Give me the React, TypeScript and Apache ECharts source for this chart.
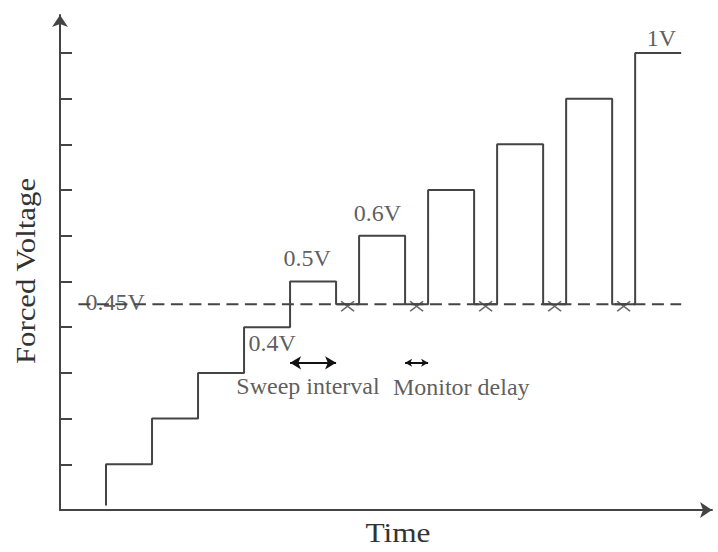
import React, { useEffect, useRef } from "react";
import * as echarts from "echarts";

// Stair-step forced voltage waveform (time units, volts)
const stairTime = [1, 1, 2, 2, 3, 3, 4, 4, 5, 5, 6, 6, 6.5, 6.5, 7.5, 7.5, 8, 8, 9, 9, 9.5, 9.5, 10.5, 10.5, 11, 11, 12, 12, 12.5, 12.5, 13.5];
const stairVolt = [0.01, 0.1, 0.1, 0.2, 0.2, 0.3, 0.3, 0.4, 0.4, 0.5, 0.5, 0.45, 0.45, 0.6, 0.6, 0.45, 0.45, 0.7, 0.7, 0.45, 0.45, 0.8, 0.8, 0.45, 0.45, 0.9, 0.9, 0.45, 0.45, 1.0, 1.0];

// Threshold (dashed) line
const thresholdVolt = 0.45;
const thresholdSpan = [0.4, 13.5];

// Monitor points (crosses)
const monitorTime = [6.25, 7.75, 9.25, 10.75, 12.25];

// Y tick values
const yTicks = [0.1, 0.2, 0.3, 0.4, 0.5, 0.6, 0.7, 0.8, 0.9, 1.0];

// Interval arrows: [startTime, endTime, volt]
const sweepArrow = [5, 6, 0.322];
const monitorArrow = [7.5, 8, 0.322];

// Annotation labels: [time, volt, text]
const annotations: [number, number, string][] = [
  [13.07, 1.033, "1V"],
  [6.9, 0.65, "0.6V"],
  [5.37, 0.551, "0.5V"],
  [4.61, 0.365, "0.4V"],
  [1.2, 0.455, "0.45V"],
  [5.39, 0.271, "Sweep interval"],
  [8.72, 0.269, "Monitor delay"],
];

const FONT = "'Liberation Serif', 'Times New Roman', serif";
const LINE = "#444";
const TEXT = "#333";

export default function App() {
  const ref = useRef<HTMLDivElement>(null);
  useEffect(() => {
    if (!ref.current) return;
    const chart = echarts.init(ref.current, undefined, { renderer: "svg" });
    const stairData = stairTime.map((t, i) => [t, stairVolt[i]]);
    chart.setOption({
      animation: false,
      backgroundColor: "#fff",
      grid: { left: 60, right: 6, top: 15, bottom: 42 },
      xAxis: {
        type: "value",
        min: 0,
        max: 14.17,
        axisLine: {
          show: true,
          symbol: ["none", "arrow"],
          symbolSize: [12, 12],
          lineStyle: { color: LINE, width: 2 },
        },
        axisTick: { show: false },
        axisLabel: { show: false },
        splitLine: { show: false },
      },
      yAxis: {
        type: "value",
        min: 0,
        max: 1.083,
        axisLine: {
          show: true,
          symbol: ["none", "arrow"],
          symbolSize: [12, 12],
          lineStyle: { color: LINE, width: 2 },
        },
        axisTick: {
          show: true,
          inside: true,
          length: 12,
          customValues: yTicks,
          lineStyle: { color: LINE, width: 2 },
        },
        axisLabel: { show: false, customValues: yTicks },
        splitLine: { show: false },
      },
      graphic: [
        {
          type: "text",
          x: 25,
          y: 271,
          rotation: Math.PI / 2,
          scaleX: 1.1,
          style: {
            text: "Forced Voltage",
            font: `28px ${FONT}`,
            fill: TEXT,
            align: "center",
            verticalAlign: "middle",
          },
        },
        {
          type: "text",
          x: 398,
          y: 533,
          scaleX: 1.12,
          style: {
            text: "Time",
            font: `28px ${FONT}`,
            fill: TEXT,
            align: "center",
            verticalAlign: "middle",
          },
        },
      ],
      series: [
        {
          name: "labels",
          type: "scatter",
          data: annotations.map((a) => ({ value: [a[0], a[1]], name: a[2] })),
          symbolSize: 1,
          itemStyle: { color: "transparent" },
          silent: true,
          z: 1,
          label: {
            show: true,
            position: "inside",
            formatter: (p: any) => p.name,
            fontFamily: FONT,
            fontSize: 24,
            color: TEXT,
            align: "center",
            verticalAlign: "middle",
          },
        },
        {
          name: "threshold",
          type: "line",
          data: [
            [thresholdSpan[0], thresholdVolt],
            [thresholdSpan[1], thresholdVolt],
          ],
          symbol: "none",
          silent: true,
          z: 3,
          lineStyle: { color: LINE, width: 2, type: [12, 6.5] },
        },
        {
          name: "stair",
          type: "line",
          data: stairData,
          symbol: "none",
          silent: true,
          z: 4,
          lineStyle: { color: LINE, width: 2 },
        },
        {
          name: "monitor",
          type: "scatter",
          data: monitorTime.map((t) => [t, thresholdVolt]),
          symbol: "path://M0,0L10,10M10,0L0,10",
          symbolSize: [13, 10],
          symbolOffset: [0, 2],
          silent: true,
          z: 5,
          itemStyle: { color: "none", borderColor: "#444", borderWidth: 1.5 },
        },
        {
          name: "arrows",
          type: "line",
          data: [],
          silent: true,
          markLine: {
            silent: true,
            animation: false,
            label: { show: false },
            lineStyle: { color: "#111", width: 2, type: "solid" },
            symbol: ["arrow", "arrow"],
            data: [
              [
                { coord: [sweepArrow[0], sweepArrow[2]], symbolSize: [10, 11] },
                { coord: [sweepArrow[1], sweepArrow[2]], symbolSize: [10, 11] },
              ],
              [
                { coord: [monitorArrow[0], monitorArrow[2]], symbolSize: [6, 7] },
                { coord: [monitorArrow[1], monitorArrow[2]], symbolSize: [6, 7] },
              ],
            ],
          },
        },
      ],
    });
    return () => chart.dispose();
  }, []);
  return (
    <div
      ref={ref}
      style={{ position: "fixed", left: 0, top: 0, width: 718, height: 552 }}
    />
  );
}
